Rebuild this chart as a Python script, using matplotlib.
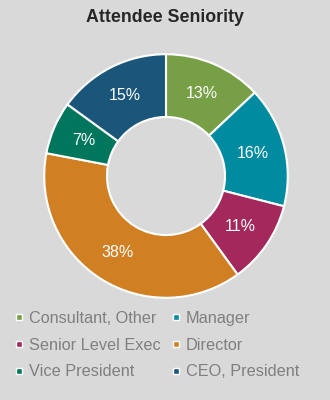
import matplotlib
matplotlib.use("Agg")
import matplotlib.pyplot as plt
from matplotlib.lines import Line2D

categories = ["Consultant, Other", "Manager", "Senior Level Exec", "Director", "Vice President", "CEO, President"]
values = [13, 16, 11, 38, 7, 15]
colors = ["#77a046", "#008ba0", "#a3295c", "#d07f23", "#00765d", "#1a557a"]
title = "Attendee Seniority"

plt.rcParams['font.family'] = ['Liberation Sans', 'DejaVu Sans']
bg = "#d9d9d9"
fig = plt.figure(figsize=(3.3, 4.0), dpi=100, facecolor=bg)

cx, cy, r = 166, 176, 123
ax = fig.add_axes([(cx - r) / 330, (400 - cy - r) / 400, 2 * r / 330, 2 * r / 400])
ax.set_facecolor(bg)
wedges, texts, autotexts = ax.pie(
    values, colors=colors, startangle=90, counterclock=False,
    radius=0.99,
    wedgeprops=dict(width=0.51, edgecolor="white", linewidth=1.5),
    autopct=lambda p: f"{p:.0f}%", pctdistance=0.74,
    textprops=dict(color="white", fontsize=11.5))
ax.set_xlim(-1, 1)
ax.set_ylim(-1, 1)
ax.axis("off")

fig.text(0.5, 1 - 18 / 400, title, ha="center", va="center", fontsize=12.8,
         fontweight="bold", color="#262626")

handles = [Line2D([], [], marker="s", linestyle="none", markersize=5,
                  markerfacecolor=c, markeredgecolor="white", markeredgewidth=1)
           for c in colors]
order = [0, 2, 4, 1, 3, 5]
leg = fig.legend([handles[i] for i in order], [categories[i] for i in order],
                 ncol=2, loc="upper left", bbox_to_anchor=(14 / 330, 1 - 311 / 400),
                 frameon=False, fontsize=11.7, labelcolor="#7f7f7f",
                 handlelength=0.6, handletextpad=0.3, columnspacing=0.65,
                 labelspacing=0.72, borderaxespad=0, borderpad=0)

fig.savefig("out.png", dpi=100, facecolor=bg)
